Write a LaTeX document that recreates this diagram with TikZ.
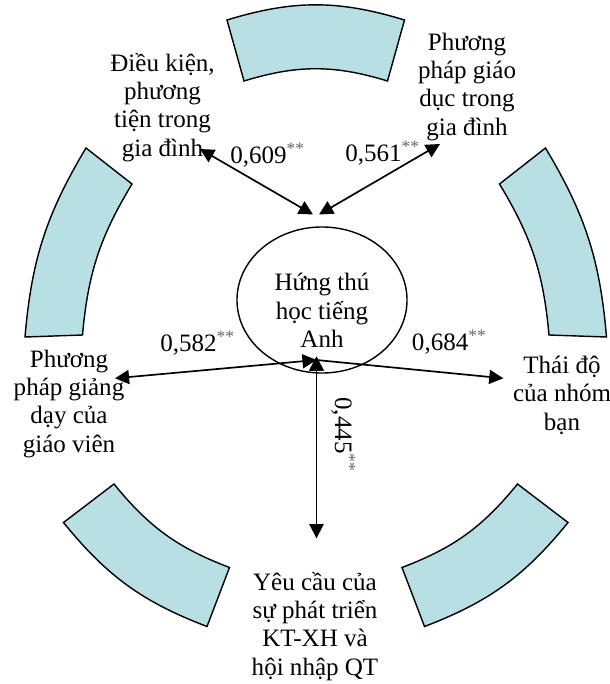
\documentclass[tikz,border=0pt]{standalone}
\usepackage{fontspec}
\setmainfont{Liberation Serif}
\usetikzlibrary{arrows.meta,shapes.geometric}
\definecolor{khoi}{RGB}{184,223,227}
\newcommand\sao{\textsuperscript{\color{black!60}**}}

\begin{document}
\begin{tikzpicture}[x=0.025cm,y=-0.025cm,>={Triangle[length=10pt,width=10pt]},
        font=\fontsize{17.8}{20.1}\selectfont]
        \tikzset{
            block/.style= {
                draw,
                fill=khoi,
                line width=1pt
            },
            nhan/.style= {
                align=center,
                inner sep=0pt,
                anchor=base
            },
            heso/.style= {
                inner sep=0pt,
                anchor=base west
            },
        }
        \useasboundingbox (0,0) rectangle (610,684);
%% khoi cung
        \draw[block] (227,20) to[bend left=17] (404.5,20) -- (387.5,81)
            to[bend right=17] (244,81) -- cycle;
        \draw[block] (25,337) to[bend left=13] (86,148) -- (132,184)
            to[bend right=13] (82.5,335) -- cycle;
        \draw[block] (545.5,148) to[bend left=13] (606.5,337) -- (549,335)
            to[bend right=13] (499.5,184) -- cycle;
        \draw[block] (568,522.5) to[bend left=15] (424.5,626.5) -- (402,567.5)
            to[bend right=15] (517.5,484) -- cycle;
        \draw[block] (207,626.5) to[bend left=15] (63.5,522.5) -- (114,484)
            to[bend right=15] (229.5,567.5) -- cycle;
%% nodes (base = last line)
        \node [ellipse, draw, line width=1pt, minimum width=4.25cm,
            minimum height=3.65cm] (hung_thu) at (322,300) {};
        \node [nhan] (hung_thu_chu) at (322,347.3)
            {Hứng thú\\học tiếng\\Anh};
        \node [nhan] (dieu_kien) at (162.5,156)
            {Điều kiện,\\phương\\tiện trong\\gia đình};
        \node [nhan] (giao_duc) at (467,135)
            {Phương\\pháp giáo\\dục trong\\gia đình};
        \node [nhan] (giang_day) at (69,452)
            {Phương\\pháp giảng\\dạy của\\giáo viên};
        \node [nhan] (nhom_ban) at (562,430)
            {Thái độ\\của nhóm\\bạn};
        \node [nhan] (yeu_cau) at (315,675)
            {Yêu cầu của\\sự phát triển\\KT-XH và\\hội nhập QT};
%% he so
        \node [heso] (hs_609) at (230,163) {0,609\sao};
        \node [heso] (hs_561) at (345,161) {0,561\sao};
        \node [heso] (hs_582) at (160,351.7) {0,582\sao};
        \node [heso] (hs_684) at (411.7,350.7) {0,684\sao};
        \node [heso, rotate=-90] (hs_445) at (335,397) {0,445\sao};
%% dau mui ten
        \coordinate (tam_tren_t) at (313,214.5);
        \coordinate (tam_tren_p) at (319,214.5);
        \coordinate (tam_giua) at (316.5,360);
        \coordinate (tam_duoi) at (316.5,356.5);
        \coordinate (mui_dieu_kien) at (200,149);
        \coordinate (mui_giao_duc) at (440,144);
        \coordinate (mui_giang_day) at (115,378.3);
        \coordinate (mui_nhom_ban) at (503.3,378.3);
        \coordinate (mui_yeu_cau) at (316.5,538.3);
%% paths
\path[draw,<->,line width=1.2pt]
    (mui_dieu_kien) edge (tam_tren_t)
    (mui_giao_duc) edge (tam_tren_p)
    (mui_giang_day) edge (tam_giua)
    (tam_duoi) edge (mui_yeu_cau)
;
\draw[->,line width=1.2pt] (tam_giua) -- (mui_nhom_ban);
\end{tikzpicture}
\end{document}
